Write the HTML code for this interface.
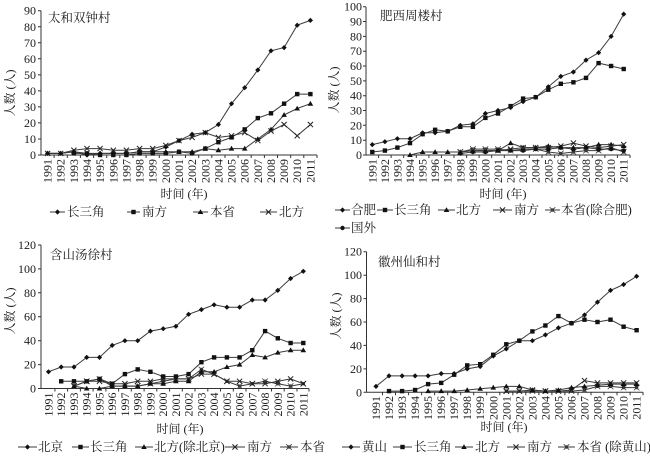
<!DOCTYPE html>
<html><head><meta charset="utf-8"><style>
html,body{margin:0;padding:0;background:#fff;}
svg{display:block;}
text{font-family:"Liberation Serif","Noto Serif CJK SC",serif;fill:#1a1a1a;}
.t{font-size:12px;}
.lg{font-size:12.5px;}
.ax{stroke:#333;stroke-width:1;fill:none;}
.s{fill:none;stroke:#3a3a3a;stroke-width:1;}
</style></head><body>
<svg width="650" height="463" viewBox="0 0 650 463" xmlns="http://www.w3.org/2000/svg">
<defs>
<marker id="d" viewBox="-4 -4 8 8" markerWidth="8" markerHeight="8" refX="0" refY="0" markerUnits="userSpaceOnUse"><path d="M0,-2.6L2.6,0L0,2.6L-2.6,0Z" fill="#111"/></marker>
<marker id="q" viewBox="-4 -4 8 8" markerWidth="8" markerHeight="8" refX="0" refY="0" markerUnits="userSpaceOnUse"><rect x="-2.2" y="-2.2" width="4.4" height="4.4" fill="#111"/></marker>
<marker id="tr" viewBox="-4 -4 8 8" markerWidth="8" markerHeight="8" refX="0" refY="0" markerUnits="userSpaceOnUse"><path d="M0,-2.8L2.8,2L-2.8,2Z" fill="#111"/></marker>
<marker id="x" viewBox="-4 -4 8 8" markerWidth="8" markerHeight="8" refX="0" refY="0" markerUnits="userSpaceOnUse"><path d="M-2.6,-2.6L2.6,2.6M-2.6,2.6L2.6,-2.6" stroke="#222" stroke-width="1"/></marker>
<marker id="st" viewBox="-4 -4 8 8" markerWidth="8" markerHeight="8" refX="0" refY="0" markerUnits="userSpaceOnUse"><rect x="-1.6" y="-1.6" width="3.2" height="3.2" fill="#222"/><path d="M-2.8,-2.8L2.8,2.8M-2.8,2.8L2.8,-2.8" stroke="#444" stroke-width="0.8"/></marker>
<marker id="c" viewBox="-4 -4 8 8" markerWidth="8" markerHeight="8" refX="0" refY="0" markerUnits="userSpaceOnUse"><circle r="2.2" fill="#111"/></marker>
</defs>

<!-- ================= PANEL 1 ================= -->
<g>
<path class="ax" d="M41,10.7V155H317"/>
<path class="ax" d="M38,155H41M38,139H41M38,122.9H41M38,106.9H41M38,90.9H41M38,74.9H41M38,58.8H41M38,42.8H41M38,26.8H41M38,10.7H41"/>
<path class="ax" d="M54.1,155v3M67.3,155v3M80.4,155v3M93.6,155v3M106.7,155v3M119.8,155v3M133,155v3M146.1,155v3M159.3,155v3M172.4,155v3M185.5,155v3M198.7,155v3M211.8,155v3M225,155v3M238.1,155v3M251.2,155v3M264.4,155v3M277.5,155v3M290.7,155v3M303.8,155v3M317,155v3"/>
<g class="t" text-anchor="end" dominant-baseline="central">
<text x="36" y="155">0</text><text x="36" y="139">10</text><text x="36" y="122.9">20</text><text x="36" y="106.9">30</text><text x="36" y="90.9">40</text><text x="36" y="74.9">50</text><text x="36" y="58.8">60</text><text x="36" y="42.8">70</text><text x="36" y="26.8">80</text><text x="36" y="10.7">90</text>
</g>
<g class="t" text-anchor="end" dominant-baseline="central">
<text transform="translate(47.6,159) rotate(-90)">1991</text><text transform="translate(60.7,159) rotate(-90)">1992</text><text transform="translate(73.9,159) rotate(-90)">1993</text><text transform="translate(87,159) rotate(-90)">1994</text><text transform="translate(100.1,159) rotate(-90)">1995</text><text transform="translate(113.3,159) rotate(-90)">1996</text><text transform="translate(126.4,159) rotate(-90)">1997</text><text transform="translate(139.6,159) rotate(-90)">1998</text><text transform="translate(152.7,159) rotate(-90)">1999</text><text transform="translate(165.8,159) rotate(-90)">2000</text><text transform="translate(179,159) rotate(-90)">2001</text><text transform="translate(192.1,159) rotate(-90)">2002</text><text transform="translate(205.3,159) rotate(-90)">2003</text><text transform="translate(218.4,159) rotate(-90)">2004</text><text transform="translate(231.5,159) rotate(-90)">2005</text><text transform="translate(244.7,159) rotate(-90)">2006</text><text transform="translate(257.8,159) rotate(-90)">2007</text><text transform="translate(271,159) rotate(-90)">2008</text><text transform="translate(284.1,159) rotate(-90)">2009</text><text transform="translate(297.2,159) rotate(-90)">2010</text><text transform="translate(310.4,159) rotate(-90)">2011</text>
</g>
<text class="t" transform="translate(10,93) rotate(-90)" text-anchor="middle" dominant-baseline="central">人数 (人)</text>
<text class="t" x="184" y="194" text-anchor="middle" dominant-baseline="central">时间 (年)</text>
<text class="lg" x="48" y="18" dominant-baseline="central">太和双钟村</text>

<polyline class="s" marker-start="url(#tr)" marker-mid="url(#tr)" marker-end="url(#tr)" points="47.6,153.4 60.7,153.4 73.9,151.8 87.0,153.4 100.1,153.4 113.3,153.4 126.4,153.4 139.6,151.8 152.7,151.8 165.8,151.8 179.0,151.8 192.1,151.8 205.3,148.6 218.4,150.2 231.5,148.6 244.7,148.6 257.8,139.0 271.0,129.4 284.1,114.9 297.2,108.5 310.4,103.7"/>
<polyline class="s" marker-start="url(#x)" marker-mid="url(#x)" marker-end="url(#x)" points="47.6,153.4 60.7,153.4 73.9,150.2 87.0,148.6 100.1,148.6 113.3,150.2 126.4,150.2 139.6,148.6 152.7,148.6 165.8,145.4 179.0,140.6 192.1,137.4 205.3,132.6 218.4,137.4 231.5,135.8 244.7,132.6 257.8,140.6 271.0,131.0 284.1,124.5 297.2,135.8 310.4,124.5"/>
<polyline class="s" marker-start="url(#q)" marker-mid="url(#q)" marker-end="url(#q)" points="73.9,153.4 87.0,153.4 100.1,155 113.3,155 126.4,155 139.6,153.4 152.7,153.4 165.8,153.4 179.0,151.8 192.1,153.4 205.3,148.6 218.4,142.2 231.5,137.4 244.7,129.4 257.8,118.1 271.0,113.3 284.1,103.7 297.2,94.1 310.4,94.1"/>
<polyline class="s" marker-start="url(#d)" marker-mid="url(#d)" marker-end="url(#d)" points="47.6,153.4 60.7,153.4 73.9,151.8 87.0,155 100.1,153.4 113.3,153.4 126.4,153.4 139.6,151.8 152.7,151.8 165.8,147.0 179.0,140.6 192.1,134.2 205.3,132.6 218.4,124.5 231.5,103.7 244.7,87.7 257.8,70.0 271.0,50.8 284.1,47.6 297.2,25.2 310.4,20.4"/>

<polyline class="s" marker-mid="url(#d)" points="50,212 57.5,212 65,212"/><text class="lg" x="67" y="212" dominant-baseline="central">长三角</text>
<polyline class="s" marker-mid="url(#q)" points="127,212 133.5,212 140,212"/><text class="lg" x="142" y="212" dominant-baseline="central">南方</text>
<polyline class="s" marker-mid="url(#tr)" points="193,212 200.5,212 208,212"/><text class="lg" x="210" y="212" dominant-baseline="central">本省</text>
<polyline class="s" marker-mid="url(#x)" points="260,212 268.5,212 277,212"/><text class="lg" x="279" y="212" dominant-baseline="central">北方</text>
</g>

<!-- ================= PANEL 2 ================= -->
<g>
<path class="ax" d="M366,6.7V155H630"/>
<path class="ax" d="M363,155H366M363,140.2H366M363,125.3H366M363,110.5H366M363,95.7H366M363,80.9H366M363,66H366M363,51.2H366M363,36.4H366M363,21.5H366M363,6.7H366"/>
<path class="ax" d="M378.6,155v3M391.1,155v3M403.7,155v3M416.3,155v3M428.9,155v3M441.4,155v3M454,155v3M466.6,155v3M479.1,155v3M491.7,155v3M504.3,155v3M516.9,155v3M529.4,155v3M542,155v3M554.6,155v3M567.1,155v3M579.7,155v3M592.3,155v3M604.9,155v3M617.4,155v3M630,155v3"/>
<g class="t" text-anchor="end" dominant-baseline="central">
<text x="362" y="155">0</text><text x="362" y="140.2">10</text><text x="362" y="125.3">20</text><text x="362" y="110.5">30</text><text x="362" y="95.7">40</text><text x="362" y="80.9">50</text><text x="362" y="66">60</text><text x="362" y="51.2">70</text><text x="362" y="36.4">80</text><text x="362" y="21.5">90</text><text x="362" y="6.7">100</text>
</g>
<g class="t" text-anchor="end" dominant-baseline="central">
<text transform="translate(372.3,159) rotate(-90)">1991</text><text transform="translate(384.9,159) rotate(-90)">1992</text><text transform="translate(397.4,159) rotate(-90)">1993</text><text transform="translate(410,159) rotate(-90)">1994</text><text transform="translate(422.6,159) rotate(-90)">1995</text><text transform="translate(435.1,159) rotate(-90)">1996</text><text transform="translate(447.7,159) rotate(-90)">1997</text><text transform="translate(460.3,159) rotate(-90)">1998</text><text transform="translate(472.9,159) rotate(-90)">1999</text><text transform="translate(485.4,159) rotate(-90)">2000</text><text transform="translate(498,159) rotate(-90)">2001</text><text transform="translate(510.6,159) rotate(-90)">2002</text><text transform="translate(523.1,159) rotate(-90)">2003</text><text transform="translate(535.7,159) rotate(-90)">2004</text><text transform="translate(548.3,159) rotate(-90)">2005</text><text transform="translate(560.8,159) rotate(-90)">2006</text><text transform="translate(573.4,159) rotate(-90)">2007</text><text transform="translate(586,159) rotate(-90)">2008</text><text transform="translate(598.6,159) rotate(-90)">2009</text><text transform="translate(611.1,159) rotate(-90)">2010</text><text transform="translate(623.7,159) rotate(-90)">2011</text>
</g>
<text class="t" transform="translate(334,90) rotate(-90)" text-anchor="middle" dominant-baseline="central">人数 (人)</text>
<text class="t" x="503" y="194" text-anchor="middle" dominant-baseline="central">时间 (年)</text>
<text class="lg" x="380" y="16" dominant-baseline="central">肥西周楼村</text>

<polyline class="s" marker-start="url(#tr)" marker-mid="url(#tr)" marker-end="url(#tr)" points="410.0,155 422.6,152.0 435.1,152.0 447.7,152.0 460.3,152.0 472.9,150.6 485.4,150.6 498.0,150.6 510.6,143.1 523.1,147.6 535.7,147.6 548.3,146.1 560.8,147.6 573.4,147.6 586.0,147.6 598.6,144.6 611.1,144.6 623.7,146.1"/>
<polyline class="s" marker-start="url(#x)" marker-mid="url(#x)" marker-end="url(#x)" points="460.3,152.0 472.9,150.6 485.4,150.6 498.0,150.6 510.6,149.1 523.1,147.6 535.7,147.6 548.3,147.6 560.8,146.1 573.4,143.1 586.0,146.1 598.6,147.6 611.1,146.1 623.7,144.6"/>
<polyline class="s" marker-start="url(#st)" marker-mid="url(#st)" marker-end="url(#st)" points="460.3,152.0 472.9,149.1 485.4,149.1 498.0,149.1 510.6,150.6 523.1,149.1 535.7,149.1 548.3,152.0 560.8,153.5 573.4,152.0 586.0,150.6 598.6,150.6 611.1,147.6 623.7,152.0"/>
<polyline class="s" marker-start="url(#c)" marker-mid="url(#c)" marker-end="url(#c)" points="460.3,153.5 472.9,152.0 485.4,152.0 498.0,150.6 510.6,150.6 523.1,150.6 535.7,149.1 548.3,149.1 560.8,147.6 573.4,149.1 586.0,147.6 598.6,149.1 611.1,149.1 623.7,150.6"/>
<polyline class="s" marker-start="url(#q)" marker-mid="url(#q)" marker-end="url(#q)" points="372.3,152.0 384.9,150.6 397.4,147.6 410.0,143.1 422.6,134.2 435.1,129.8 447.7,131.3 460.3,126.8 472.9,126.8 485.4,117.9 498.0,113.5 510.6,106.1 523.1,98.6 535.7,97.2 548.3,89.7 560.8,83.8 573.4,82.3 586.0,77.9 598.6,63.1 611.1,66.0 623.7,69.0"/>
<polyline class="s" marker-start="url(#d)" marker-mid="url(#d)" marker-end="url(#d)" points="372.3,144.6 384.9,141.7 397.4,138.7 410.0,138.7 422.6,132.8 435.1,132.8 447.7,131.3 460.3,125.3 472.9,123.9 485.4,113.5 498.0,110.5 510.6,107.5 523.1,101.6 535.7,97.2 548.3,86.8 560.8,76.4 573.4,72.0 586.0,60.1 598.6,52.7 611.1,36.4 623.7,14.1"/>

<polyline class="s" marker-mid="url(#d)" points="335,210 342.5,210 350,210"/><text class="lg" x="351" y="210" dominant-baseline="central">合肥</text>
<polyline class="s" marker-mid="url(#q)" points="377,210 385,210 393,210"/><text class="lg" x="394" y="210" dominant-baseline="central">长三角</text>
<polyline class="s" marker-mid="url(#tr)" points="438,210 446.5,210 455,210"/><text class="lg" x="456" y="210" dominant-baseline="central">北方</text>
<polyline class="s" marker-mid="url(#x)" points="493,210 502.5,210 512,210"/><text class="lg" x="514" y="210" dominant-baseline="central">南方</text>
<polyline class="s" marker-mid="url(#st)" points="545,210 552.5,210 560,210"/><text class="lg" x="561" y="210" dominant-baseline="central">本省(除合肥)</text>
<polyline class="s" marker-mid="url(#c)" points="335,228 342.5,228 350,228"/><text class="lg" x="351" y="228" dominant-baseline="central">国外</text>
</g>

<!-- ================= PANEL 3 ================= -->
<g>
<path class="ax" d="M41,245V388.5H309"/>
<path class="ax" d="M38,388.5H41M38,364.6H41M38,340.7H41M38,316.7H41M38,292.8H41M38,268.9H41M38,245H41"/>
<path class="ax" d="M54.9,388.5v3M67.6,388.5v3M80.4,388.5v3M93.1,388.5v3M105.9,388.5v3M118.6,388.5v3M131.3,388.5v3M144.1,388.5v3M156.8,388.5v3M169.6,388.5v3M182.3,388.5v3M195,388.5v3M207.8,388.5v3M220.5,388.5v3M233.3,388.5v3M246,388.5v3M258.7,388.5v3M271.5,388.5v3M284.2,388.5v3M297,388.5v3M309,388.5v3"/>
<g class="t" text-anchor="end" dominant-baseline="central">
<text x="36" y="388.5">0</text><text x="36" y="364.6">20</text><text x="36" y="340.7">40</text><text x="36" y="316.7">60</text><text x="36" y="292.8">80</text><text x="36" y="268.9">100</text><text x="36" y="245">120</text>
</g>
<g class="t" text-anchor="end" dominant-baseline="central">
<text transform="translate(48.5,392.5) rotate(-90)">1991</text><text transform="translate(61.2,392.5) rotate(-90)">1992</text><text transform="translate(74,392.5) rotate(-90)">1993</text><text transform="translate(86.7,392.5) rotate(-90)">1994</text><text transform="translate(99.5,392.5) rotate(-90)">1995</text><text transform="translate(112.2,392.5) rotate(-90)">1996</text><text transform="translate(124.9,392.5) rotate(-90)">1997</text><text transform="translate(137.7,392.5) rotate(-90)">1998</text><text transform="translate(150.4,392.5) rotate(-90)">1999</text><text transform="translate(163.2,392.5) rotate(-90)">2000</text><text transform="translate(175.9,392.5) rotate(-90)">2001</text><text transform="translate(188.6,392.5) rotate(-90)">2002</text><text transform="translate(201.4,392.5) rotate(-90)">2003</text><text transform="translate(214.1,392.5) rotate(-90)">2004</text><text transform="translate(226.9,392.5) rotate(-90)">2005</text><text transform="translate(239.6,392.5) rotate(-90)">2006</text><text transform="translate(252.3,392.5) rotate(-90)">2007</text><text transform="translate(265.1,392.5) rotate(-90)">2008</text><text transform="translate(277.8,392.5) rotate(-90)">2009</text><text transform="translate(290.6,392.5) rotate(-90)">2010</text><text transform="translate(303.3,392.5) rotate(-90)">2011</text>
</g>
<text class="t" transform="translate(10,311) rotate(-90)" text-anchor="middle" dominant-baseline="central">人数 (人)</text>
<text class="t" x="180" y="429" text-anchor="middle" dominant-baseline="central">时间 (年)</text>
<text class="lg" x="50" y="255" dominant-baseline="central">含山汤徐村</text>

<polyline class="s" marker-start="url(#st)" marker-mid="url(#st)" marker-end="url(#st)" points="74.0,386.1 86.7,381.3 99.5,378.9 112.2,386.1 124.9,386.1 137.7,386.1 150.4,383.7 163.2,381.3 175.9,378.9 188.6,378.9 201.4,369.4 214.1,374.1 226.9,381.3 239.6,386.1 252.3,383.7 265.1,381.3 277.8,383.7 290.6,386.1 303.3,383.7"/>
<polyline class="s" marker-start="url(#x)" marker-mid="url(#x)" marker-end="url(#x)" points="74.0,386.1 86.7,381.3 99.5,381.3 112.2,383.7 124.9,383.7 137.7,381.3 150.4,381.3 163.2,378.9 175.9,378.9 188.6,378.9 201.4,374.1 214.1,374.1 226.9,381.3 239.6,381.3 252.3,383.7 265.1,383.7 277.8,381.3 290.6,378.9 303.3,383.7"/>
<polyline class="s" marker-start="url(#tr)" marker-mid="url(#tr)" marker-end="url(#tr)" points="74.0,386.1 86.7,388.5 99.5,388.5 112.2,386.1 124.9,386.1 137.7,386.1 150.4,383.7 163.2,383.7 175.9,381.3 188.6,381.3 201.4,371.8 214.1,371.8 226.9,367.0 239.6,364.6 252.3,355.0 265.1,357.4 277.8,352.6 290.6,350.2 303.3,350.2"/>
<polyline class="s" marker-start="url(#q)" marker-mid="url(#q)" marker-end="url(#q)" points="61.2,381.3 74.0,381.3 86.7,381.3 99.5,378.9 112.2,383.7 124.9,374.1 137.7,369.4 150.4,371.8 163.2,376.5 175.9,376.5 188.6,374.1 201.4,362.2 214.1,357.4 226.9,357.4 239.6,357.4 252.3,350.2 265.1,331.1 277.8,338.3 290.6,343.0 303.3,343.0"/>
<polyline class="s" marker-start="url(#d)" marker-mid="url(#d)" marker-end="url(#d)" points="48.5,371.8 61.2,367.0 74.0,367.0 86.7,357.4 99.5,357.4 112.2,345.4 124.9,340.7 137.7,340.7 150.4,331.1 163.2,328.7 175.9,326.3 188.6,314.3 201.4,309.6 214.1,304.8 226.9,307.2 239.6,307.2 252.3,300.0 265.1,300.0 277.8,290.4 290.6,278.5 303.3,271.3"/>

<polyline class="s" marker-mid="url(#d)" points="18,447 27.5,447 37,447"/><text class="lg" x="38" y="447" dominant-baseline="central">北京</text>
<polyline class="s" marker-mid="url(#q)" points="72,447 80.5,447 89,447"/><text class="lg" x="90" y="447" dominant-baseline="central">长三角</text>
<polyline class="s" marker-mid="url(#tr)" points="135,447 144,447 153,447"/><text class="lg" x="154" y="447" dominant-baseline="central">北方(除北京)</text>
<polyline class="s" marker-mid="url(#x)" points="225,447 235,447 245,447"/><text class="lg" x="247" y="447" dominant-baseline="central">南方</text>
<polyline class="s" marker-mid="url(#st)" points="280,447 289,447 298,447"/><text class="lg" x="300" y="447" dominant-baseline="central">本省</text>
</g>

<!-- ================= PANEL 4 ================= -->
<g>
<path class="ax" d="M366.5,251.7V392.3H643"/>
<path class="ax" d="M363.5,392.3H366.5M363.5,368.9H366.5M363.5,345.4H366.5M363.5,322H366.5M363.5,298.6H366.5M363.5,275.2H366.5M363.5,251.7H366.5"/>
<path class="ax" d="M382.5,392.3v3M395.5,392.3v3M408.6,392.3v3M421.6,392.3v3M434.6,392.3v3M447.7,392.3v3M460.7,392.3v3M473.7,392.3v3M486.7,392.3v3M499.8,392.3v3M512.8,392.3v3M525.8,392.3v3M538.9,392.3v3M551.9,392.3v3M564.9,392.3v3M578,392.3v3M591,392.3v3M604,392.3v3M617,392.3v3M630.1,392.3v3M643,392.3v3"/>
<g class="t" text-anchor="end" dominant-baseline="central">
<text x="362" y="392.3">0</text><text x="362" y="368.9">20</text><text x="362" y="345.4">40</text><text x="362" y="322">60</text><text x="362" y="298.6">80</text><text x="362" y="275.2">100</text><text x="362" y="251.7">120</text>
</g>
<g class="t" text-anchor="end" dominant-baseline="central">
<text transform="translate(376,396) rotate(-90)">1991</text><text transform="translate(389,396) rotate(-90)">1992</text><text transform="translate(402.1,396) rotate(-90)">1993</text><text transform="translate(415.1,396) rotate(-90)">1994</text><text transform="translate(428.1,396) rotate(-90)">1995</text><text transform="translate(441.2,396) rotate(-90)">1996</text><text transform="translate(454.2,396) rotate(-90)">1997</text><text transform="translate(467.2,396) rotate(-90)">1998</text><text transform="translate(480.2,396) rotate(-90)">1999</text><text transform="translate(493.3,396) rotate(-90)">2000</text><text transform="translate(506.3,396) rotate(-90)">2001</text><text transform="translate(519.3,396) rotate(-90)">2002</text><text transform="translate(532.4,396) rotate(-90)">2003</text><text transform="translate(545.4,396) rotate(-90)">2004</text><text transform="translate(558.4,396) rotate(-90)">2005</text><text transform="translate(571.5,396) rotate(-90)">2006</text><text transform="translate(584.5,396) rotate(-90)">2007</text><text transform="translate(597.5,396) rotate(-90)">2008</text><text transform="translate(610.5,396) rotate(-90)">2009</text><text transform="translate(623.6,396) rotate(-90)">2010</text><text transform="translate(636.6,396) rotate(-90)">2011</text>
</g>
<text class="t" transform="translate(336,316) rotate(-90)" text-anchor="middle" dominant-baseline="central">人数 (人)</text>
<text class="t" x="504" y="427" text-anchor="middle" dominant-baseline="central">时间 (年)</text>
<text class="lg" x="378" y="262" dominant-baseline="central">徽州仙和村</text>

<polyline class="s" marker-start="url(#st)" marker-mid="url(#st)" marker-end="url(#st)" points="506.3,391.1 519.3,391.1 532.4,391.1 545.4,391.1 558.4,391.1 571.5,391.1 584.5,390.0 597.5,386.4 610.5,386.4 623.6,387.6 636.6,387.6"/>
<polyline class="s" marker-start="url(#x)" marker-mid="url(#x)" marker-end="url(#x)" points="506.3,391.1 519.3,391.1 532.4,390.0 545.4,391.1 558.4,391.1 571.5,390.0 584.5,380.6 597.5,382.9 610.5,382.9 623.6,382.9 636.6,382.9"/>
<polyline class="s" marker-start="url(#tr)" marker-mid="url(#tr)" marker-end="url(#tr)" points="428.1,391.1 441.2,391.1 454.2,391.1 467.2,390.0 480.2,388.8 493.3,387.6 506.3,386.4 519.3,386.4 532.4,390.0 545.4,391.1 558.4,390.0 571.5,387.6 584.5,386.4 597.5,385.3 610.5,384.1 623.6,384.1 636.6,384.1"/>
<polyline class="s" marker-start="url(#q)" marker-mid="url(#q)" marker-end="url(#q)" points="389.0,391.1 402.1,391.1 415.1,390.0 428.1,384.1 441.2,382.9 454.2,374.7 467.2,365.4 480.2,364.2 493.3,354.8 506.3,344.3 519.3,340.7 532.4,331.4 545.4,325.5 558.4,316.1 571.5,323.2 584.5,319.7 597.5,322.0 610.5,319.7 623.6,326.7 636.6,330.2"/>
<polyline class="s" marker-start="url(#d)" marker-mid="url(#d)" marker-end="url(#d)" points="376.0,386.4 389.0,375.9 402.1,375.9 415.1,375.9 428.1,375.9 441.2,373.6 454.2,373.6 467.2,368.9 480.2,366.5 493.3,356.0 506.3,348.9 519.3,340.7 532.4,340.7 545.4,334.9 558.4,327.9 571.5,323.2 584.5,315.0 597.5,302.1 610.5,290.4 623.6,284.5 636.6,276.3"/>

<polyline class="s" marker-mid="url(#d)" points="342,447 351,447 360,447"/><text class="lg" x="362" y="447" dominant-baseline="central">黄山</text>
<polyline class="s" marker-mid="url(#q)" points="393,447 402.5,447 412,447"/><text class="lg" x="414" y="447" dominant-baseline="central">长三角</text>
<polyline class="s" marker-mid="url(#tr)" points="455,447 464,447 473,447"/><text class="lg" x="475" y="447" dominant-baseline="central">北方</text>
<polyline class="s" marker-mid="url(#x)" points="507,447 516,447 525,447"/><text class="lg" x="527" y="447" dominant-baseline="central">南方</text>
<polyline class="s" marker-mid="url(#st)" points="558,447 566.5,447 575,447"/><text class="lg" x="577" y="447" dominant-baseline="central">本省 (除黄山)</text>
</g>
</svg>
</body></html>
